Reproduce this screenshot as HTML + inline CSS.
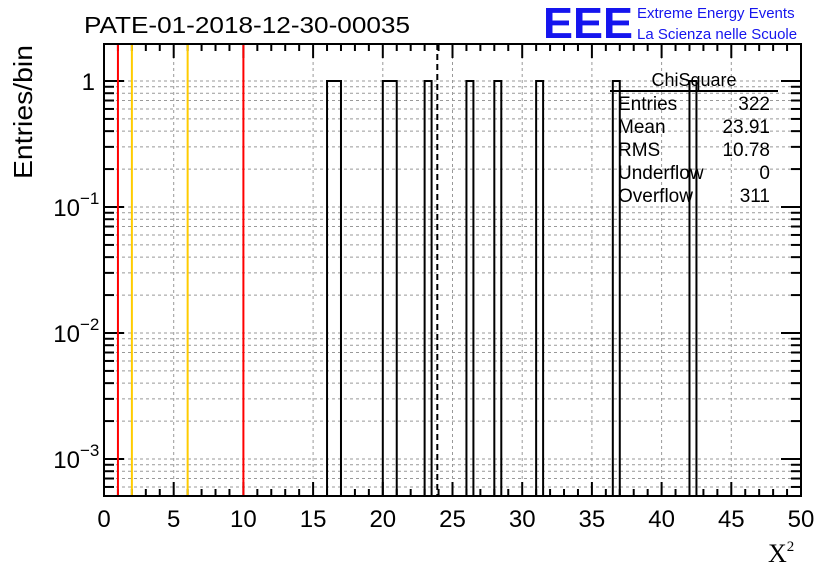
<!DOCTYPE html>
<html><head><meta charset="utf-8"><style>
body{margin:0;background:#fff;}
svg{display:block;font-family:"Liberation Sans",sans-serif;}
</style></head><body>
<svg id="c" width="836" height="572">
<text x="84" y="33" font-size="23" textLength="326" lengthAdjust="spacingAndGlyphs">PATE-01-2018-12-30-00035</text>
<text x="543" y="38" font-size="44" font-weight="bold" fill="#1515ee" textLength="90" lengthAdjust="spacingAndGlyphs">EEE</text>
<text x="637" y="18" font-size="15" fill="#1515ee">Extreme Energy Events</text>
<text x="637" y="39" font-size="15" fill="#1515ee">La Scienza nelle Scuole</text>
<text transform="translate(32,179) rotate(-90)" font-size="26" textLength="134" lengthAdjust="spacingAndGlyphs">Entries/bin</text>
<text x="768" y="562" font-size="26" font-family="Liberation Serif,serif">X<tspan font-size="15" dy="-11">2</tspan></text>
<g id="grid"></g><g id="axes"></g><g id="marks"></g>
</svg>
<script>
const binWidth = 0.5;
const binStarts = [16, 16.5, 20, 20.5, 23, 26, 28, 31, 36.5, 42];
const binCounts = [1, 1, 1, 1, 1, 1, 1, 1, 1, 1];
const redLines = [1, 10];
const yellowLines = [2, 6];
const meanValue = 23.91;
const xTicks = [0,5,10,15,20,25,30,35,40,45,50];
const statLabels = ["Entries","Mean","RMS","Underflow","Overflow"];
const statValues = ["322","23.91","10.78","0","311"];

const L=104,R=801,T=44,B=496;
const xs=v=>L+(v-0)/50*(R-L);
const Y1=81,DEC=126;
const ys=v=>v>0?Math.min(B,Y1-Math.log10(v)*DEC):B;
const NS='http://www.w3.org/2000/svg';
function mk(p,tag,at){const e=document.createElementNS(NS,tag);for(const k in at)e.setAttribute(k,at[k]);p.appendChild(e);return e;}
const grid=document.getElementById('grid'),marks=document.getElementById('marks'),axes=document.getElementById('axes'),svg=document.getElementById('c');
xTicks.slice(1,-1).forEach(t=>{const l=mk(grid,'line',{x1:xs(t),x2:xs(t),y1:T,y2:B,stroke:'#999','stroke-dasharray':'3,3','stroke-width':1});

});
for(let d=-4;d<=0;d++){for(let m=1;m<=9;m++){const v=m*Math.pow(10,d);const y=Y1-Math.log10(v)*DEC;if(y<T||y>B)continue;
const l=mk(grid,'line',{x1:L,x2:R,y1:y,y2:y,stroke:'#999','stroke-dasharray':'3,3','stroke-width':1});


const tk=mk(axes,'line',{x1:L,x2:L+(m==1?20:10),y1:y,y2:y,stroke:'#000','stroke-width':2});


const tr=mk(axes,'line',{x1:R,x2:R-(m==1?20:10),y1:y,y2:y,stroke:'#000','stroke-width':2});

}}
const fr=mk(axes,'rect',{x:L,y:T,width:R-L,height:B-T,fill:'none',stroke:'#000','stroke-width':2});


for(let v=0;v<=50;v+=1){const big=v%5==0;const x=xs(v);
const tk=mk(axes,'line',{x1:x,x2:x,y1:B,y2:B-(big?14:7),stroke:'#000','stroke-width':2});


const tt=mk(axes,'line',{x1:x,x2:x,y1:T,y2:T+(big?14:7),stroke:'#000','stroke-width':2});

}
const nb=Math.round(50/binWidth);const vals=new Array(nb).fill(0);
binStarts.forEach((s,i)=>{vals[Math.round(s/binWidth)]+=binCounts[i];});
let d=`M${xs(0)},${B}`;
for(let i=0;i<nb;i++){d+=`V${ys(vals[i])}H${xs((i+1)*binWidth)}`;}
d+=`V${B}`;
const p=mk(marks,'path',{d:d,fill:'none',stroke:'#000','stroke-width':2});


redLines.forEach(v=>{const l=mk(marks,'line',{x1:xs(v),x2:xs(v),y1:T+1,y2:B-1,stroke:'#f00','stroke-width':2});

});
yellowLines.forEach(v=>{const l=mk(marks,'line',{x1:xs(v),x2:xs(v),y1:T+1,y2:B-1,stroke:'#fc0','stroke-width':2});

});
const ml=mk(marks,'line',{x1:xs(meanValue),x2:xs(meanValue),y1:T,y2:B,stroke:'#000','stroke-width':2,'stroke-dasharray':'6,4'});


xTicks.forEach(t=>{const e=mk(svg,'text',{x:xs(t),y:527,'font-size':24,'text-anchor':'middle'});e.textContent=t;

});
[[0,'1'],[-1,'10'],[-2,'10'],[-3,'10']].forEach(([dd,s])=>{const y=Y1-dd*DEC;
const e=mk(svg,'text',{x:dd==0?95:80,y:y+9,'font-size':24,'text-anchor':'end'});e.textContent=s;


if(dd<0){const sp=mk(svg,'text',{x:80,y:y-3,'font-size':17});sp.textContent=String(dd).replace('-','\u2212');

}});
const st=mk(svg,'text',{x:694,y:86,'font-size':18,'text-anchor':'middle'});st.textContent='ChiSquare';


const sl=mk(svg,'line',{x1:610,x2:778,y1:91,y2:91,stroke:'#000','stroke-width':2});


statLabels.forEach((lab,i)=>{const y=110+i*23;
const a=mk(svg,'text',{x:618,y:y,'font-size':19});a.textContent=lab;


const b=mk(svg,'text',{x:770,y:y,'font-size':19,'text-anchor':'end'});b.textContent=statValues[i];

});
</script>
</body></html>
